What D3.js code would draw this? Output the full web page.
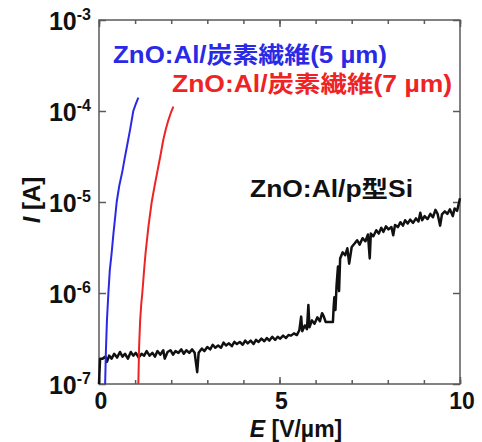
<!DOCTYPE html>
<html>
<head>
<meta charset="utf-8">
<script src="https://cdnjs.cloudflare.com/ajax/libs/d3/7.8.5/d3.min.js"></script>
<style>
  body { margin: 0; background: #fff; }
  text { font-family: "Liberation Sans", Arial, "Noto Sans CJK JP", sans-serif; font-weight: bold; }
</style>
</head>
<body>
<div id="chart"></div>
<script>
// [E (V/um), I (A)]

// ZnO:Al / carbon fibre (5 um) - blue
var blueData = [[0.17, 1e-7], [0.19, 2.2e-7], [0.22, 5e-7], [0.26, 1e-6], [0.30, 1.8e-6], [0.35, 2.75e-6],
  [0.40, 4.5e-6], [0.46, 7.6e-6], [0.49, 1e-5], [0.56, 1.5e-5], [0.65, 2.2e-5], [0.71, 3.0e-5],
  [0.77, 4.0e-5], [0.86, 6.2e-5], [0.95, 1e-4], [1.02, 1.2e-4], [1.09, 1.4e-4]];

// ZnO:Al / carbon fibre (7 um) - red
var redData = [[1.09, 1e-7], [1.11, 2.5e-7], [1.14, 5e-7], [1.17, 7.5e-7], [1.20, 1e-6], [1.25, 1.8e-6],
  [1.29, 2.75e-6], [1.37, 5.4e-6], [1.46, 1e-5], [1.54, 1.5e-5], [1.62, 2.2e-5], [1.70, 3.2e-5],
  [1.78, 4.8e-5], [1.85, 6.3e-5], [1.92, 7.9e-5], [2.00, 9.8e-5], [2.06, 1.12e-4]];

// ZnO:Al / p-type Si - black
var blackData = [
  [0.00, 1.0e-7], [0.03, 1.9e-7], [0.10, 1.9e-7], [0.18, 2.0e-7], [0.22, 1.75e-7], [0.28, 2.05e-7],
  [0.35, 1.9e-7], [0.42, 2.15e-7], [0.50, 1.95e-7], [0.58, 2.25e-7], [0.65, 2.0e-7], [0.72, 2.15e-7],
  [0.80, 1.9e-7], [0.88, 2.25e-7], [0.95, 2.05e-7], [1.02, 2.2e-7], [1.10, 1.95e-7], [1.18, 2.15e-7],
  [1.25, 2.05e-7], [1.32, 2.3e-7], [1.40, 2.05e-7], [1.48, 2.2e-7], [1.55, 2.0e-7], [1.62, 2.3e-7],
  [1.70, 2.1e-7], [1.78, 2.35e-7], [1.82, 1.9e-7], [1.90, 2.25e-7], [1.98, 2.35e-7], [2.05, 2.1e-7],
  [2.12, 2.3e-7], [2.20, 2.2e-7], [2.28, 2.4e-7], [2.35, 2.15e-7], [2.42, 2.35e-7], [2.50, 2.2e-7],
  [2.58, 2.4e-7], [2.65, 2.2e-7], [2.72, 1.35e-7], [2.76, 2.2e-7], [2.85, 2.45e-7], [2.92, 2.3e-7],
  [3.00, 2.55e-7], [3.08, 2.4e-7], [3.15, 2.7e-7], [3.22, 2.5e-7], [3.30, 2.65e-7], [3.38, 2.5e-7],
  [3.45, 2.85e-7], [3.52, 2.65e-7], [3.60, 2.8e-7], [3.68, 2.6e-7], [3.75, 2.9e-7], [3.82, 2.75e-7],
  [3.90, 2.9e-7], [3.98, 2.7e-7], [4.05, 3.0e-7], [4.12, 2.8e-7], [4.20, 3.0e-7], [4.28, 2.75e-7],
  [4.35, 3.05e-7], [4.42, 2.9e-7], [4.50, 3.15e-7], [4.58, 2.95e-7], [4.65, 3.2e-7], [4.72, 3.0e-7],
  [4.80, 3.3e-7], [4.88, 3.05e-7], [4.95, 3.3e-7], [5.02, 3.15e-7], [5.10, 3.4e-7], [5.18, 3.2e-7],
  [5.25, 3.45e-7], [5.32, 3.4e-7], [5.40, 3.6e-7], [5.48, 3.45e-7], [5.55, 3.9e-7], [5.60, 5.5e-7],
  [5.63, 3.8e-7], [5.70, 4.4e-7], [5.76, 4.0e-7], [5.80, 7.4e-7], [5.83, 4.2e-7], [5.90, 5.0e-7],
  [5.97, 4.6e-7], [6.05, 5.4e-7], [6.12, 4.9e-7], [6.18, 6.0e-7], [6.22, 5.6e-7], [6.28, 4.8e-7],
  [6.48, 4.8e-7], [6.50, 7.0e-7], [6.52, 9.0e-7], [6.55, 6.5e-7], [6.58, 1.2e-6], [6.62, 1.95e-6],
  [6.65, 1.05e-6], [6.68, 2.4e-6], [6.75, 2.8e-6], [6.82, 2.6e-6], [6.88, 3.1e-6], [6.93, 2.1e-6],
  [7.00, 3.2e-6], [7.08, 3.5e-6], [7.15, 3.8e-6], [7.22, 3.4e-6], [7.30, 4.0e-6], [7.38, 3.7e-6],
  [7.45, 4.4e-6], [7.50, 2.4e-6], [7.53, 4.5e-6], [7.60, 4.2e-6], [7.68, 4.9e-6], [7.75, 4.5e-6],
  [7.82, 5.2e-6], [7.88, 4.7e-6], [7.95, 5.4e-6], [8.02, 5.0e-6], [8.10, 5.3e-6], [8.15, 4.3e-6],
  [8.20, 5.6e-6], [8.28, 5.3e-6], [8.35, 6.0e-6], [8.42, 5.5e-6], [8.48, 6.3e-6], [8.55, 5.8e-6],
  [8.62, 6.4e-6], [8.70, 5.9e-6], [8.78, 6.6e-6], [8.85, 6.1e-6], [8.90, 7.6e-6], [8.95, 6.3e-6],
  [9.02, 7.0e-6], [9.10, 6.5e-6], [9.18, 7.4e-6], [9.25, 6.8e-6], [9.32, 8.2e-6], [9.38, 7.4e-6],
  [9.45, 5.5e-6], [9.50, 7.3e-6], [9.58, 7.9e-6], [9.65, 7.4e-6], [9.72, 8.3e-6], [9.80, 7.0e-6],
  [9.85, 8.5e-6], [9.92, 8.0e-6], [10.0, 1.1e-5]];

var yDecades = [1e-7, 1e-6, 1e-5, 1e-4, 1e-3];
var yExponents = ["-7", "-6", "-5", "-4", "-3"];
var xMajor = [0, 5, 10];
var xMinor = [0, 1, 2, 3, 4, 5, 6, 7, 8, 9, 10];

function draw(){
    var W = 482, H = 442,
        m = { left: 99, right: 22, top: 20, bottom: 58 };

    var svg = d3.select("#chart").append("svg")
        .attr("width", W)
        .attr("height", H);

    var x = d3.scaleLinear().domain([0, 10]).range([m.left, W - m.right]);
    var y = d3.scaleLog().domain([1e-7, 1e-3]).range([H - m.bottom, m.top]);

    var axisColor = "#5a5a5a";

    // minor + major ticks, all pointing inward
    function styleAxis(g){
        g.select(".domain").remove();
        g.selectAll("line").attr("stroke", axisColor).attr("stroke-width", 1.5);
    }
    svg.append("g").attr("transform", "translate(0," + y.range()[0] + ")")
        .call(d3.axisBottom(x).tickValues(xMinor).tickSize(-4).tickFormat(""))
        .call(styleAxis);
    svg.append("g").attr("transform", "translate(0," + y.range()[0] + ")")
        .call(d3.axisBottom(x).tickValues(xMajor).tickSize(-7).tickFormat(""))
        .call(styleAxis);
    svg.append("g").attr("transform", "translate(0," + m.top + ")")
        .call(d3.axisTop(x).tickValues(xMinor).tickSize(-4).tickFormat(""))
        .call(styleAxis);
    svg.append("g").attr("transform", "translate(0," + m.top + ")")
        .call(d3.axisTop(x).tickValues(xMajor).tickSize(-7).tickFormat(""))
        .call(styleAxis);
    svg.append("g").attr("transform", "translate(" + m.left + ",0)")
        .call(d3.axisLeft(y).tickValues(yDecades).tickSize(-7).tickFormat(""))
        .call(styleAxis);
    svg.append("g").attr("transform", "translate(" + (W - m.right) + ",0)")
        .call(d3.axisRight(y).tickValues(yDecades).tickSize(-7).tickFormat(""))
        .call(styleAxis);

    // frame
    svg.append("rect")
        .attr("x", x(0)).attr("y", y(1e-3))
        .attr("width", x(10) - x(0)).attr("height", y(1e-7) - y(1e-3))
        .attr("fill", "none").attr("stroke", axisColor).attr("stroke-width", 1.5);

    // y tick labels 10^n
    var yl = svg.append("g").selectAll("text")
        .data(yDecades)
        .enter().append("text")
        .attr("x", 91)
        .attr("y", function(d){ return y(d) + 10; })
        .attr("text-anchor", "end")
        .attr("fill", "#111");
    yl.append("tspan").style("font-size", "25px").text("10");
    yl.append("tspan").style("font-size", "16px").attr("dy", -10)
        .text(function(d, i){ return yExponents[i]; });

    // x tick labels
    svg.append("g").selectAll("text")
        .data(xMajor)
        .enter().append("text")
        .attr("x", function(d){ return x(d) + 2; })
        .attr("y", 409)
        .attr("text-anchor", "middle")
        .style("font-size", "23px")
        .attr("fill", "#111")
        .text(function(d){ return d; });

    // axis titles
    var xt = svg.append("text")
        .attr("x", 296).attr("y", 437)
        .attr("text-anchor", "middle")
        .style("font-size", "23px")
        .attr("fill", "#111");
    xt.append("tspan").style("font-style", "italic").text("E");
    xt.append("tspan").text(" [V/µm]");

    var yt = svg.append("text")
        .attr("transform", "translate(40,200) rotate(-90)")
        .attr("text-anchor", "middle")
        .style("font-size", "24px")
        .attr("fill", "#111");
    yt.append("tspan").style("font-style", "italic").text("I");
    yt.append("tspan").text(" [A]");

    // curves
    var line = d3.line()
        .x(function(d){ return x(d[0]); })
        .y(function(d){ return y(d[1]); });

    var series = [
        { data: blackData, color: "#111", w: 2.5 },
        { data: redData, color: "#ee2424", w: 2 },
        { data: blueData, color: "#2a2ae6", w: 2 }
    ];
    svg.append("g").selectAll("path")
        .data(series)
        .enter().append("path")
        .attr("d", function(s){ return line(s.data); })
        .attr("fill", "none")
        .attr("stroke", function(s){ return s.color; })
        .attr("stroke-width", function(s){ return s.w; })
        .attr("stroke-linejoin", "round");

    // labels
    var labels = [
        { t: "ZnO:Al/炭素繊維(5 µm)", x: 113, y: 63, len: 274, c: "#2a2ae6" },
        { t: "ZnO:Al/炭素繊維(7 µm)", x: 172, y: 92, len: 280, c: "#ee2424" },
        { t: "ZnO:Al/p型Si", x: 250, y: 197, len: 163, c: "#111" }
    ];
    svg.append("g").selectAll("text")
        .data(labels)
        .enter().append("text")
        .attr("x", function(d){ return d.x; })
        .attr("y", function(d){ return d.y; })
        .attr("textLength", function(d){ return d.len; })
        .attr("lengthAdjust", "spacingAndGlyphs")
        .style("font-size", "23px")
        .attr("fill", function(d){ return d.c; })
        .text(function(d){ return d.t; });
}
draw();
</script>
</body>
</html>
